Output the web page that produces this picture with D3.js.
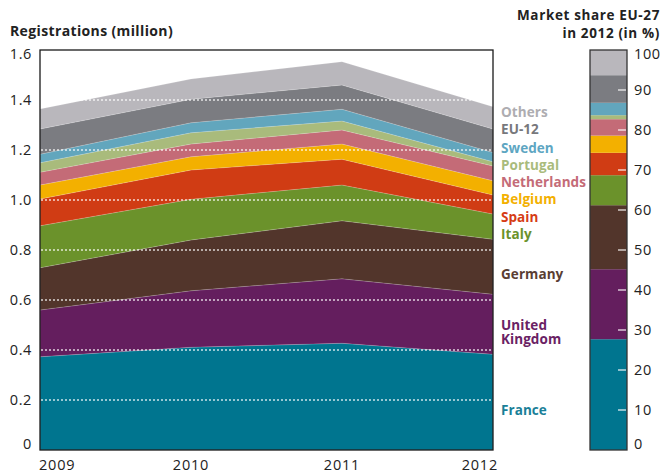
<!DOCTYPE html>
<html>
<head>
<meta charset="utf-8">
<script src="https://cdn.jsdelivr.net/npm/d3@7"></script>
<style>
  html, body { margin: 0; padding: 0; background: #fff; }
  svg { display: block; font-family: "Open Sans", "DejaVu Sans", sans-serif; }
</style>
</head>
<body>
<svg id="chart" width="666" height="473"></svg>
<script>
// ---- Data ----
const years = [2009, 2010, 2011, 2012];
const countries = ["France", "United Kingdom", "Germany", "Italy", "Spain", "Belgium", "Netherlands", "Portugal", "Sweden", "EU-12", "Others"];
// Registrations (million) per country per year
const france        = [0.373, 0.411, 0.427, 0.383];
const unitedKingdom = [0.187, 0.226, 0.258, 0.240];
const germany       = [0.169, 0.203, 0.232, 0.220];
const italy         = [0.168, 0.163, 0.143, 0.101];
const spain         = [0.107, 0.117, 0.103, 0.076];
const belgium       = [0.056, 0.053, 0.061, 0.057];
const netherlands   = [0.051, 0.051, 0.056, 0.059];
const portugal      = [0.038, 0.045, 0.036, 0.017];
const sweden        = [0.034, 0.040, 0.047, 0.037];
const eu12          = [0.101, 0.094, 0.097, 0.094];
const others        = [0.080, 0.081, 0.093, 0.089];
// Market share EU-27 in 2012 (%)
const share2012 = [27.7, 17.5, 16.0, 7.5, 5.6, 4.3, 4.1, 1.0, 3.1, 6.9, 6.3];
const yTicks = [0, 0.2, 0.4, 0.6, 0.8, 1.0, 1.2, 1.4, 1.6];
const shareTicks = [0, 10, 20, 30, 40, 50, 60, 70, 80, 90, 100];

const colors = ["#00758f", "#641e5e", "#52352b", "#6b922b", "#d03c14", "#f3b000", "#c46b77", "#a9bb7c", "#62a6bd", "#7b7c81", "#b9b7bc"];
const labelColors = ["#1a7f98", "#6a2264", "#5a3e33", "#6b922b", "#d63c14", "#f3b000", "#c46b77", "#a9bb7c", "#5ea6c2", "#77787c", "#aeadb1"];

const seriesValues = [france, unitedKingdom, germany, italy, spain, belgium, netherlands, portugal, sweden, eu12, others];
const table = years.map((yr, i) => {
  const row = { year: yr };
  countries.forEach((c, k) => row[c] = seriesValues[k][i]);
  return row;
});

// widen a text via letter-spacing so it matches a target width (font size kept)
function spacingFor(sel, target) {
  const n = sel.text().length;
  const w = sel.node().getComputedTextLength();
  if (!(w > 0) || n < 2) return 0;
  return Math.max(0, Math.min(2, (target - w) / n));
}

// ---- Layout ----
const svg = d3.select("#chart");
const x = d3.scaleLinear().domain([2009, 2012]).range([40, 493]);
const y = d3.scaleLinear().domain([0, 1.6]).range([450, 50]);

const stack = d3.stack().keys(countries);
const layers = stack(table);
const area = d3.area()
  .x(d => x(d.data.year))
  .y0(d => y(d[0]))
  .y1(d => y(d[1]));

svg.append("g").selectAll("path")
  .data(layers)
  .join("path")
  .attr("d", area)
  .attr("fill", (d, i) => colors[i])
  .attr("stroke", "rgba(255,255,255,0.25)")
  .attr("stroke-width", 0.6);

// gridlines
svg.append("g").selectAll("line")
  .data(yTicks.filter(t => t > 0 && t < 1.6))
  .join("line")
  .attr("x1", x(2009) + 1).attr("x2", x(2012) - 1)
  .attr("y1", d => y(d)).attr("y2", d => y(d))
  .attr("stroke", "#fff")
  .attr("stroke-opacity", 0.8)
  .attr("stroke-width", 1.5)
  .attr("stroke-dasharray", "2,2");

// frame
svg.append("rect")
  .attr("x", x(2009)).attr("y", y(1.6))
  .attr("width", x(2012) - x(2009)).attr("height", y(0) - y(1.6))
  .attr("fill", "none").attr("stroke", "#1a1a1a").attr("stroke-width", 1.3);

// y axis labels
svg.append("g").selectAll("text")
  .data(yTicks)
  .join("text")
  .attr("x", 32)
  .attr("y", d => y(d) + (d === 0 ? -1 : d === 1.6 ? 9 : 5))
  .attr("text-anchor", "end")
  .attr("font-size", 14.5)
  .attr("letter-spacing", 0.6)
  .attr("fill", "#222")
  .text(d => d === 0 ? "0" : d3.format(".1f")(d));

// x axis labels
svg.append("g").selectAll("text")
  .data(years)
  .join("text")
  .attr("x", (d, i) => i === 0 ? x(d) - 1 : i === years.length - 1 ? x(d) + 5 : x(d))
  .attr("y", 470)
  .attr("text-anchor", (d, i) => i === 0 ? "start" : i === years.length - 1 ? "end" : "middle")
  .attr("font-size", 14.5)
  .attr("letter-spacing", 0.8)
  .attr("fill", "#222")
  .text(d => d);

// title
const title = svg.append("text")
  .attr("x", 10).attr("y", 36)
  .attr("font-size", 14).attr("font-weight", 700).attr("fill", "#222")
  .text("Registrations (million)");
title.attr("letter-spacing", spacingFor(title, 163));

// legend labels
const legendPos = [
  { lines: ["France"], y: 415 },
  { lines: ["United", "Kingdom"], y: 329.5 },
  { lines: ["Germany"], y: 279 },
  { lines: ["Italy"], y: 239 },
  { lines: ["Spain"], y: 221.5 },
  { lines: ["Belgium"], y: 204 },
  { lines: ["Netherlands"], y: 186.5 },
  { lines: ["Portugal"], y: 169.5 },
  { lines: ["Sweden"], y: 152.5 },
  { lines: ["EU-12"], y: 134 },
  { lines: ["Others"], y: 116.5 }
];
const legendSize = 13.5;
const probe = svg.append("text").attr("font-size", legendSize).attr("font-weight", 700).text("Netherlands");
const legendSpacing = spacingFor(probe, 85);
probe.remove();

const lg = svg.append("g");
legendPos.forEach((p, i) => {
  p.lines.forEach((ln, j) => {
    lg.append("text")
      .attr("x", 501).attr("y", p.y + j * 14)
      .attr("font-size", legendSize).attr("font-weight", 700)
      .attr("letter-spacing", legendSpacing)
      .attr("fill", labelColors[i])
      .text(ln);
  });
});

// ---- Market share bar ----
const ys = d3.scaleLinear().domain([0, 100]).range([450, 50]);
const barX0 = 590, barX1 = 627;
let cum = 0;
const segs = share2012.map((v, i) => { const s = { y0: cum, y1: cum + v, i }; cum += v; return s; });
svg.append("g").selectAll("rect")
  .data(segs)
  .join("rect")
  .attr("x", barX0).attr("width", barX1 - barX0)
  .attr("y", d => ys(Math.min(d.y1, 100)))
  .attr("height", d => ys(d.y0) - ys(Math.min(d.y1, 100)))
  .attr("fill", d => colors[d.i]);

// bar tick marks
svg.append("g").selectAll("line")
  .data(shareTicks.filter(t => t > 0 && t < 100))
  .join("line")
  .attr("x1", 618).attr("x2", barX1 - 1)
  .attr("y1", d => ys(d)).attr("y2", d => ys(d))
  .attr("stroke", "#fff").attr("stroke-opacity", 0.75).attr("stroke-width", 1.5);

svg.append("rect")
  .attr("x", barX0).attr("y", ys(100))
  .attr("width", barX1 - barX0).attr("height", ys(0) - ys(100))
  .attr("fill", "none").attr("stroke", "#333").attr("stroke-width", 1.3);

svg.append("g").selectAll("text")
  .data(shareTicks)
  .join("text")
  .attr("x", 634)
  .attr("y", d => ys(d) + (d === 0 ? -1 : d === 100 ? 9 : 5))
  .attr("font-size", 14.5)
  .attr("letter-spacing", 0.6)
  .attr("fill", "#222")
  .text(d => d);

const ms1 = svg.append("text")
  .attr("x", 660).attr("y", 19.5)
  .attr("text-anchor", "end")
  .attr("font-size", 13.5).attr("font-weight", 700).attr("fill", "#222")
  .text("Market share EU-27");
const msSpacing = spacingFor(ms1, 143);
ms1.attr("letter-spacing", msSpacing);
svg.append("text")
  .attr("x", 660).attr("y", 38)
  .attr("text-anchor", "end")
  .attr("font-size", 13.5).attr("font-weight", 700).attr("fill", "#222")
  .attr("letter-spacing", msSpacing)
  .text("in 2012 (in %)");
</script>
</body>
</html>
